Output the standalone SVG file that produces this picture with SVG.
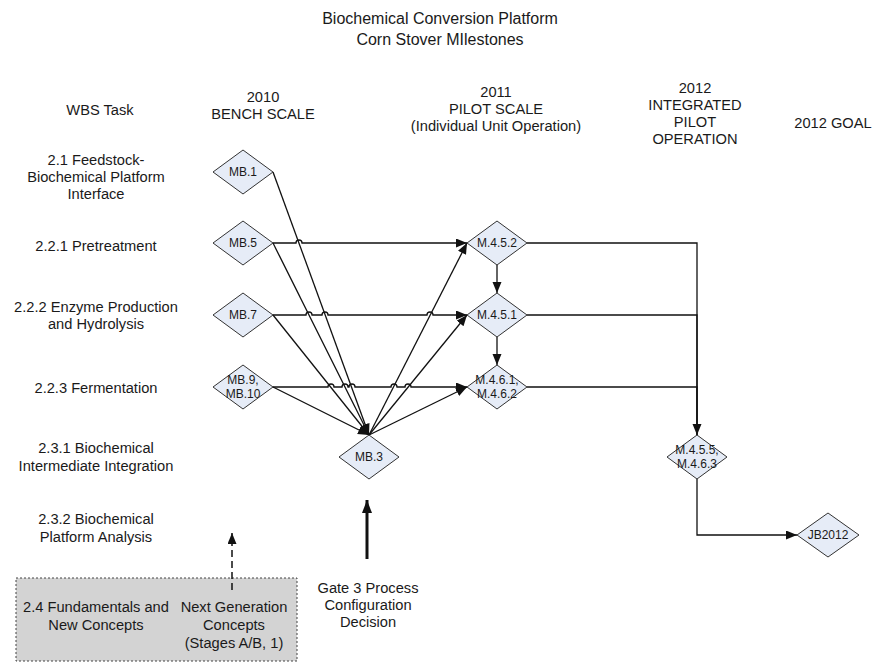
<svg xmlns="http://www.w3.org/2000/svg" width="875" height="662" viewBox="0 0 875 662">
<style>
text{font-family:"Liberation Sans",Arial,sans-serif;fill:#1a1a1a;text-anchor:middle}
.t{font-size:16px}
.l{font-size:14.67px}
.n{font-size:12px}
.d{fill:#e6ecf7;stroke:#333;stroke-width:1}
.c{fill:none;stroke:#111;stroke-width:1.3}
</style>
<defs>
<marker id="a" markerUnits="userSpaceOnUse" markerWidth="12" markerHeight="10" refX="11" refY="4.5" orient="auto"><path d="M0,0 L11,4.5 L0,9 z" fill="#111"/></marker>
<marker id="g" markerUnits="userSpaceOnUse" markerWidth="14" markerHeight="12" refX="13" refY="5" orient="auto"><path d="M0,0 L13,5 L0,10 z" fill="#111"/></marker>
</defs>
<rect width="875" height="662" fill="#fff"/>
<text class="t" x="440" y="24">Biochemical Conversion Platform</text>
<text class="t" x="440" y="45">Corn Stover MIlestones</text>
<g id="headers" class="l">
<text class="l" x="100" y="115">WBS Task</text>
<text class="l" x="263" y="102">2010</text>
<text class="l" x="263" y="119">BENCH SCALE</text>
<text class="l" x="496" y="97">2011</text>
<text class="l" x="496" y="114">PILOT SCALE</text>
<text class="l" x="496" y="131">(Individual Unit Operation)</text>
<text class="l" x="695" y="93">2012</text>
<text class="l" x="695" y="110">INTEGRATED</text>
<text class="l" x="695" y="127">PILOT</text>
<text class="l" x="695" y="144">OPERATION</text>
<text class="l" x="833" y="128">2012 GOAL</text>
</g>
<g id="wbs">
<text class="l" x="96" y="165">2.1 Feedstock-</text>
<text class="l" x="96" y="182">Biochemical Platform</text>
<text class="l" x="96" y="199">Interface</text>
<text class="l" x="96" y="251">2.2.1 Pretreatment</text>
<text class="l" x="96" y="312">2.2.2 Enzyme Production</text>
<text class="l" x="96" y="329">and Hydrolysis</text>
<text class="l" x="96" y="393">2.2.3 Fermentation</text>
<text class="l" x="96" y="453">2.3.1 Biochemical</text>
<text class="l" x="96" y="471">Intermediate Integration</text>
<text class="l" x="96" y="524">2.3.2 Biochemical</text>
<text class="l" x="96" y="542">Platform Analysis</text>
</g>
<g id="fundamentals">
<rect x="16" y="578" width="281" height="83" fill="#d3d3d3" stroke="#444" stroke-width="1" stroke-dasharray="2,2"/>
<text class="l" x="96" y="612">2.4 Fundamentals and</text>
<text class="l" x="96" y="630">New Concepts</text>
<text class="l" x="234" y="612">Next Generation</text>
<text class="l" x="234" y="630">Concepts</text>
<text class="l" x="234" y="648">(Stages A/B, 1)</text>
</g>
<g id="gate3">
<text class="l" x="368" y="593">Gate 3 Process</text>
<text class="l" x="368" y="610">Configuration</text>
<text class="l" x="368" y="627">Decision</text>
</g>
<g id="connectors">
<path class="c" d="M273,172 L369,435" marker-end="url(#a)"/>
<path class="c" d="M273,243 L369,435" marker-end="url(#a)"/>
<path class="c" d="M273,315 L369,435" marker-end="url(#a)"/>
<path class="c" d="M273,387 L369,435" marker-end="url(#a)"/>
<path class="c" d="M369,435 L467,243" marker-end="url(#a)"/>
<path class="c" d="M369,435 L467,315" marker-end="url(#a)"/>
<path class="c" d="M369,435 L467,387" marker-end="url(#a)"/>
<path class="c" d="M273,243 H296 a3,3 0 0 1 6,0 H467" marker-end="url(#a)"/>
<path class="c" d="M273,315 H306 a3,3 0 0 1 6,0 H322 a3,3 0 0 1 6,0 H427 a3,3 0 0 1 6,0 H467" marker-end="url(#a)"/>
<path class="c" d="M273,387 H328 a3,3 0 0 1 6,0 H342 a3,3 0 0 1 6,0 H349 a3,3 0 0 1 6,0 H391 a3,3 0 0 1 6,0 H405 a3,3 0 0 1 6,0 H467" marker-end="url(#a)"/>
<path class="c" d="M497,265 V293" marker-end="url(#a)"/>
<path class="c" d="M497,337 V365" marker-end="url(#a)"/>
<path class="c" d="M527,243 H697 V435" marker-end="url(#a)"/>
<path class="c" d="M527,315 H697 V435"/>
<path class="c" d="M527,387 H697 V435"/>
<path class="c" d="M697,479 V535 H797" marker-end="url(#a)"/>
<path fill="none" stroke="#111" stroke-width="3" d="M367,559 V500" marker-end="url(#g)"/>
<path fill="none" stroke="#111" stroke-width="1.5" stroke-dasharray="7,4" d="M232,590 V533" marker-end="url(#a)"/>
</g>
<g id="MB1"><path class="d" d="M213,172 L243,150 L273,172 L243,194 z"/><text class="n" x="243" y="176">MB.1</text></g>
<g id="MB5"><path class="d" d="M213,243 L243,221 L273,243 L243,265 z"/><text class="n" x="243" y="247">MB.5</text></g>
<g id="MB7"><path class="d" d="M213,315 L243,293 L273,315 L243,337 z"/><text class="n" x="243" y="319">MB.7</text></g>
<g id="MB9"><path class="d" d="M213,387 L243,365 L273,387 L243,409 z"/><text class="n" x="243" y="384">MB.9,</text><text class="n" x="243" y="398">MB.10</text></g>
<g id="MB3"><path class="d" d="M339,457 L369,435 L399,457 L369,479 z"/><text class="n" x="369" y="461">MB.3</text></g>
<g id="M452"><path class="d" d="M467,243 L497,221 L527,243 L497,265 z"/><text class="n" x="497" y="247">M.4.5.2</text></g>
<g id="M451"><path class="d" d="M467,315 L497,293 L527,315 L497,337 z"/><text class="n" x="497" y="319">M.4.5.1</text></g>
<g id="M461"><path class="d" d="M467,387 L497,365 L527,387 L497,409 z"/><text class="n" x="497" y="384">M.4.6.1,</text><text class="n" x="497" y="398">M.4.6.2</text></g>
<g id="M455"><path class="d" d="M667,457 L697,435 L727,457 L697,479 z"/><text class="n" x="697" y="454">M.4.5.5,</text><text class="n" x="697" y="468">M.4.6.3</text></g>
<g id="JB2012"><path class="d" d="M797,535 L828,513 L859,535 L828,557 z"/><text class="n" x="828" y="539">JB2012</text></g>
</svg>
